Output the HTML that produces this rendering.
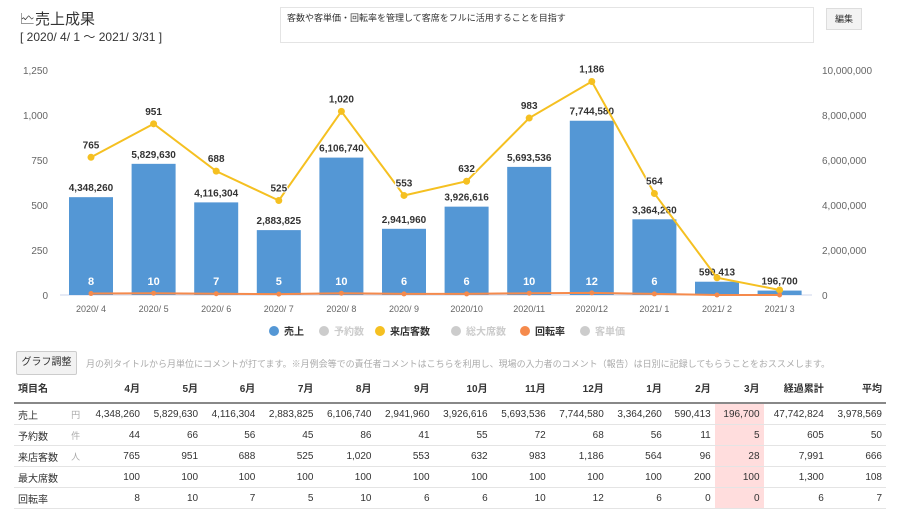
<!DOCTYPE html>
<html><head><meta charset="utf-8"><style>
body{margin:0;width:900px;height:506px;background:#fff;font-family:"Liberation Sans","Noto Sans CJK JP",sans-serif;color:#333;position:relative;overflow:hidden}
.abs{position:absolute}
table{border-collapse:collapse;position:absolute;left:14px;top:373px;width:872px;font-size:10px}
td,th{padding:0 4px;text-align:right;height:20px;border-bottom:1px solid #e4e4e4;white-space:nowrap}
th{font-weight:bold;height:29px;border-bottom:2px solid #888}
td:first-child,th:first-child{text-align:left}
.u{color:#aaa;font-size:9px;text-align:left}
.pk{background:#fdd}
</style></head><body>
<div class="abs" style="left:20px;top:8px;font-size:15px">🗠売上成果</div>
<div class="abs" style="left:20px;top:28px;font-size:12px">[ 2020/ 4/ 1 ～ 2021/ 3/31 ]</div>
<div class="abs" style="left:280px;top:7px;width:534px;height:36px;border:1px solid #e4e4e4;font-size:9px;padding:3px 6px;box-sizing:border-box">客数や客単価・回転率を管理して客席をフルに活用することを目指す</div>
<div class="abs" style="left:826px;top:8px;width:34px;height:20px;border:1px solid #ddd;background:#f3f3f3;font-size:9px;text-align:center;line-height:20px">編集</div>
<svg id="ch" class="abs" style="left:0;top:55px" width="900" height="290"></svg>
<div class="abs" style="left:16px;top:351px;width:59px;height:22px;border:1px solid #ccc;background:#f2f2f2;border-radius:2px;font-size:10px;text-align:center;line-height:22px">グラフ調整</div>
<div class="abs" style="left:86px;top:357px;font-size:9px;color:#aaa">月の列タイトルから月単位にコメントが打てます。※月例会等での責任者コメントはこちらを利用し、現場の入力者のコメント（報告）は日別に記録してもらうことをおススメします。</div>
<table>
<tr><th>項目名</th><th></th><th>4月</th><th>5月</th><th>6月</th><th>7月</th><th>8月</th><th>9月</th><th>10月</th><th>11月</th><th>12月</th><th>1月</th><th>2月</th><th>3月</th><th>経過累計</th><th>平均</th></tr>
<tr><td>売上</td><td class="u">円</td><td>4,348,260</td><td>5,829,630</td><td>4,116,304</td><td>2,883,825</td><td>6,106,740</td><td>2,941,960</td><td>3,926,616</td><td>5,693,536</td><td>7,744,580</td><td>3,364,260</td><td>590,413</td><td class="pk">196,700</td><td>47,742,824</td><td>3,978,569</td></tr>
<tr><td>予約数</td><td class="u">件</td><td>44</td><td>66</td><td>56</td><td>45</td><td>86</td><td>41</td><td>55</td><td>72</td><td>68</td><td>56</td><td>11</td><td class="pk">5</td><td>605</td><td>50</td></tr>
<tr><td>来店客数</td><td class="u">人</td><td>765</td><td>951</td><td>688</td><td>525</td><td>1,020</td><td>553</td><td>632</td><td>983</td><td>1,186</td><td>564</td><td>96</td><td class="pk">28</td><td>7,991</td><td>666</td></tr>
<tr><td>最大席数</td><td class="u"></td><td>100</td><td>100</td><td>100</td><td>100</td><td>100</td><td>100</td><td>100</td><td>100</td><td>100</td><td>100</td><td>200</td><td class="pk">100</td><td>1,300</td><td>108</td></tr>
<tr><td>回転率</td><td class="u"></td><td>8</td><td>10</td><td>7</td><td>5</td><td>10</td><td>6</td><td>6</td><td>10</td><td>12</td><td>6</td><td>0</td><td class="pk">0</td><td>6</td><td>7</td></tr>
</table>
<script>
const categories=["2020/ 4","2020/ 5","2020/ 6","2020/ 7","2020/ 8","2020/ 9","2020/10","2020/11","2020/12","2021/ 1","2021/ 2","2021/ 3"];
const sales=[4348260,5829630,4116304,2883825,6106740,2941960,3926616,5693536,7744580,3364260,590413,196700];
const visitors=[765,951,688,525,1020,553,632,983,1186,564,96,28];
const turnover=[8,10,7,5,10,6,6,10,12,6,0,0];
const leftTicks=[0,250,500,750,1000,1250];
const rightTicks=[0,2000000,4000000,6000000,8000000,10000000];
const svg=document.getElementById('ch');const NS='http://www.w3.org/2000/svg';
const y0=240,h=225,x0=60,step=62.6;
const yl=v=>y0-v/1250*h, yr=v=>y0-v/1e7*h, xc=i=>x0+31+i*step;
const fmt=v=>v.toLocaleString('en-US');
function el(t,a,txt){const e=document.createElementNS(NS,t);for(const k in a)e.setAttribute(k,a[k]);if(txt!=null)e.textContent=txt;svg.appendChild(e);return e;}
let e;
e=el('line',{x1:x0,x2:812,y1:y0,y2:y0,stroke:'#ccd6eb'});


leftTicks.forEach(v=>{e=el('text',{x:48,y:yl(v)+4,'text-anchor':'end','font-size':10,fill:'#666'},fmt(v));

});
rightTicks.forEach(v=>{e=el('text',{x:822,y:yr(v)+4,'font-size':10,fill:'#666'},fmt(v));

});
categories.forEach((c,i)=>{
e=el('rect',{x:xc(i)-22,y:yr(sales[i]),width:44,height:y0-yr(sales[i]),fill:'#5497d5'});


e=el('text',{x:xc(i),y:257,'text-anchor':'middle','font-size':9,fill:'#666'},c);


e=el('text',{x:xc(i),y:yr(sales[i])-6,'text-anchor':'middle','font-size':10,'font-weight':'bold',fill:'#333',stroke:'#fff','stroke-width':2,'paint-order':'stroke'},fmt(sales[i]));


});
let pts=visitors.map((v,i)=>xc(i)+','+yl(v)).join(' ');
e=el('polyline',{points:pts,fill:'none',stroke:'#f5c021','stroke-width':2});


let tp=turnover.map((v,i)=>xc(i)+','+yl(v)).join(' ');
e=el('polyline',{points:tp,fill:'none',stroke:'#f58a4c','stroke-width':2});


visitors.forEach((v,i)=>{
e=el('circle',{cx:xc(i),cy:yl(v),r:3.5,fill:'#f5c021'});


if(i<10){e=el('text',{x:xc(i),y:yl(v)-9,'text-anchor':'middle','font-size':10,'font-weight':'bold',fill:'#333',stroke:'#fff','stroke-width':2,'paint-order':'stroke'},fmt(v));

}
e=el('circle',{cx:xc(i),cy:yl(turnover[i]),r:2.5,fill:'#f58a4c'});


if(i<10){e=el('text',{x:xc(i),y:y0-10,'text-anchor':'middle','font-size':11,'font-weight':'bold',fill:'#fff'},turnover[i]);

}
});
const leg=[["売上","#5497d5",274],["予約数","#ccc",324],["来店客数","#f5c021",380],["総大席数","#ccc",456],["回転率","#f58a4c",525],["客単価","#ccc",585]];
leg.forEach(l=>{
e=el('circle',{cx:l[2],cy:276,r:5,fill:l[1]});


e=el('text',{x:l[2]+10,y:280,'font-size':10,'font-weight':'bold',fill:l[1]=='#ccc'?'#ccc':'#333'},l[0]);


});
</script>
</body></html>
